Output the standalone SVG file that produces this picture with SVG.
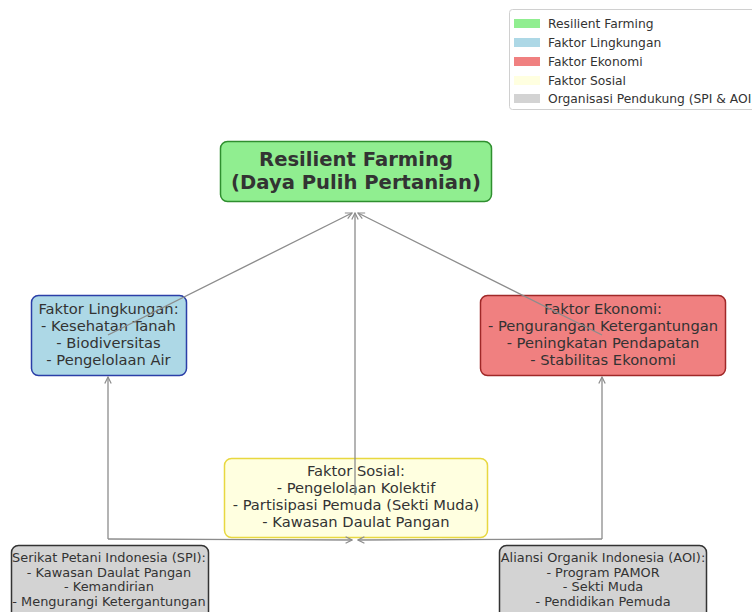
<svg xmlns="http://www.w3.org/2000/svg" width="752" height="612" viewBox="0 0 752 612">
<style>
text{font-family:"DejaVu Sans","Liberation Sans",sans-serif;fill:#333;text-anchor:middle}
.t14{font-size:14.7px}
.t12{font-size:12.9px}
.title{font-size:19.6px;font-weight:bold}
.leg{font-size:12.3px;text-anchor:start;fill:#333}
.edge{stroke:#8c8c8c;stroke-width:1.3;fill:none;marker-end:url(#ah)}
</style>
<defs>
<marker id="ah" viewBox="0 0 10 10" refX="9" refY="5" markerWidth="8" markerHeight="8" markerUnits="userSpaceOnUse" orient="auto">
<path d="M1,1 L9,5 L1,9" fill="none" stroke="#8c8c8c" stroke-width="1.5"/>
</marker>
</defs>
<rect width="752" height="612" fill="#fff"/>
<g id="legend">
<rect x="509.5" y="9.5" width="260" height="100" rx="3" fill="#fff" stroke="#d0d0d0"/>
<rect x="514" y="19" width="26" height="9" fill="#90ee90"/>
<text class="leg" x="548" y="28">Resilient Farming</text>
<rect x="514" y="38" width="26" height="9" fill="#add8e6"/>
<text class="leg" x="548" y="47">Faktor Lingkungan</text>
<rect x="514" y="57" width="26" height="9" fill="#f08080"/>
<text class="leg" x="548" y="66">Faktor Ekonomi</text>
<rect x="514" y="76" width="26" height="9" fill="#ffffe0"/>
<text class="leg" x="548" y="85">Faktor Sosial</text>
<rect x="514" y="94" width="26" height="9" fill="#d3d3d3"/>
<text class="leg" x="548" y="103">Organisasi Pendukung (SPI &amp; AOI)</text>
</g>
<g id="node-resilient">
<rect x="220.5" y="141.5" width="271" height="60" rx="7" fill="#90ee90" stroke="#2f8f2f" stroke-width="1.5"/>
<text class="title" x="356" y="166">Resilient Farming</text>
<text class="title" x="356" y="189">(Daya Pulih Pertanian)</text>
</g>
<g id="node-lingkungan">
<rect x="31.5" y="295.5" width="155" height="80" rx="7" fill="#add8e6" stroke="#2b3fa8" stroke-width="1.5"/>
<text class="t14" x="108.5" y="314">Faktor Lingkungan:</text>
<text class="t14" x="108.5" y="331">- Kesehatan Tanah</text>
<text class="t14" x="108.5" y="348">- Biodiversitas</text>
<text class="t14" x="108.5" y="365">- Pengelolaan Air</text>
</g>
<g id="node-ekonomi">
<rect x="480.5" y="295.5" width="245" height="80" rx="7" fill="#f08080" stroke="#a02828" stroke-width="1.5"/>
<text class="t14" x="603" y="314">Faktor Ekonomi:</text>
<text class="t14" x="603" y="331">- Pengurangan Ketergantungan</text>
<text class="t14" x="603" y="348">- Peningkatan Pendapatan</text>
<text class="t14" x="603" y="365">- Stabilitas Ekonomi</text>
</g>
<g id="node-sosial">
<rect x="224.5" y="458.5" width="263" height="79" rx="7" fill="#ffffe0" stroke="#e8d840" stroke-width="1.5"/>
<text class="t14" x="356" y="476">Faktor Sosial:</text>
<text class="t14" x="356" y="493">- Pengelolaan Kolektif</text>
<text class="t14" x="356" y="510">- Partisipasi Pemuda (Sekti Muda)</text>
<text class="t14" x="356" y="527">- Kawasan Daulat Pangan</text>
</g>
<g id="node-spi">
<rect x="11.5" y="545.5" width="197" height="75" rx="7" fill="#d3d3d3" stroke="#333" stroke-width="1.5"/>
<text class="t12" x="109" y="562">Serikat Petani Indonesia (SPI):</text>
<text class="t12" x="109" y="577">- Kawasan Daulat Pangan</text>
<text class="t12" x="109" y="591">- Kemandirian</text>
<text class="t12" x="109" y="606">- Mengurangi Ketergantungan</text>
</g>
<g id="node-aoi">
<rect x="499.5" y="545.5" width="207" height="75" rx="7" fill="#d3d3d3" stroke="#333" stroke-width="1.5"/>
<text class="t12" x="603" y="562">Aliansi Organik Indonesia (AOI):</text>
<text class="t12" x="603" y="577">- Program PAMOR</text>
<text class="t12" x="603" y="591">- Sekti Muda</text>
<text class="t12" x="603" y="606">- Pendidikan Pemuda</text>
</g>
<g id="connectors">
<path class="edge" d="M108,335 L352,213"/>
<path class="edge" d="M602,335 L358,213"/>
<path class="edge" d="M355,495 L355,213"/>
<path class="edge" d="M108,539 L108,377"/>
<path class="edge" d="M602,539 L602,377"/>
<path class="edge" d="M108,539 L352,540"/>
<path class="edge" d="M602,539 L358,540"/>
</g>
</svg>
